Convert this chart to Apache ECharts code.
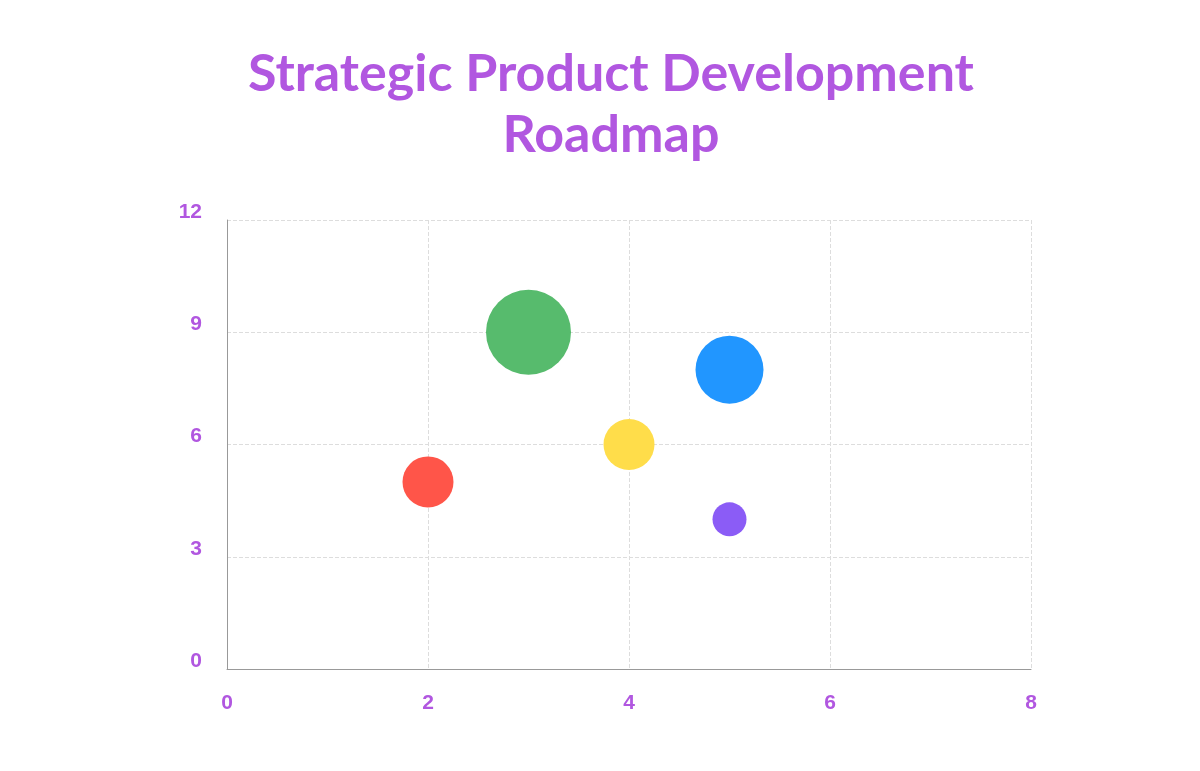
<!DOCTYPE html>
<html style="height: 100%">
<head>
<meta charset="utf-8">
</head>
<body style="height: 100%; margin: 0; background: #fff">
	<div id="container" style="height: 100%"></div>
	<script type="text/javascript" src="https://cdn.jsdelivr.net/npm/echarts@6/dist/echarts.min.js"></script>
	<script type="text/javascript">
		// bubble data: x position, y position, bubble weight, colour
		var xValues = [2, 3, 4, 5, 5];
		var yValues = [5, 9, 6, 8, 4];
		var weights = [3, 5, 3, 4, 2];
		var colors = ['#ff5549', '#57bb6d', '#ffdd4a', '#2196ff', '#8b5cf6'];
		var xTicks = [0, 2, 4, 6, 8];
		var yTicks = [0, 3, 6, 9, 12];

		var purple = '#b157e0';
		var dom = document.getElementById("container");
		var myChart = echarts.init(dom);

		function get_points() {
			var pts = [];
			for (var i = 0; i < xValues.length; i++) {
				pts.push({
					value: [xValues[i], yValues[i], weights[i]],
					itemStyle: { color: colors[i], opacity: 1 }
				});
			}
			return pts;
		}

		var option = {
			animation: false,
			title: {
				text: 'Strategic Product Development\nRoadmap',
				left: 606,
				top: 39,
				textAlign: 'center',
				textStyle: {
					color: purple,
					fontFamily: 'Lato',
					fontWeight: 'bold',
					fontSize: 52,
					lineHeight: 61
				}
			},
			grid: { left: 227, right: 169, top: 220, bottom: 102 },
			xAxis: {
				type: 'value',
				min: xTicks[0],
				max: xTicks[xTicks.length - 1],
				interval: 2,
				axisLine: { show: true, lineStyle: { color: '#999', width: 1 } },
				axisTick: { show: false },
				splitLine: { lineStyle: { color: '#ddd', type: 'dashed' } },
				axisLabel: {
					color: purple, fontWeight: 'bold', fontSize: 21,
					fontFamily: 'Liberation Sans', margin: 24
				}
			},
			yAxis: {
				type: 'value',
				min: yTicks[0],
				max: yTicks[yTicks.length - 1],
				interval: 3,
				axisLine: { show: true, lineStyle: { color: '#999', width: 1 } },
				axisTick: { show: false },
				splitLine: { lineStyle: { color: '#ddd', type: 'dashed' } },
				axisLabel: {
					color: purple, fontWeight: 'bold', fontSize: 21,
					fontFamily: 'Liberation Sans', margin: 25,
					verticalAlign: 'bottom',
					lineHeight: 16
				}
			},
			series: [{
				type: 'scatter',
				data: get_points(),
				symbolSize: function (val) { return val[2] * 17; }
			}]
		};
		myChart.setOption(option, true);
	</script>
</body>
</html>
